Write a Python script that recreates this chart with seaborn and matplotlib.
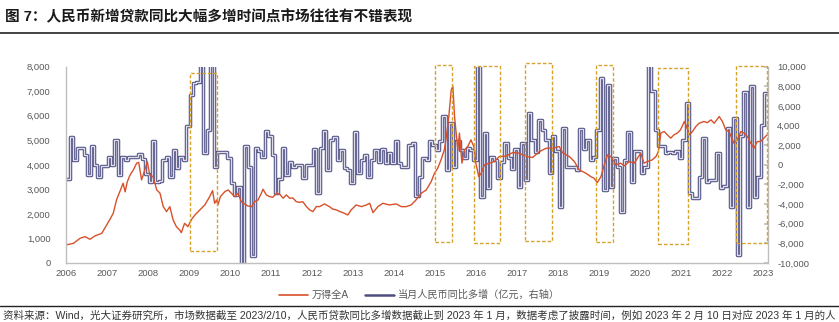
import numpy as np
import pandas as pd
import matplotlib
matplotlib.use("Agg")
import matplotlib.pyplot as plt
import matplotlib.dates as mdates
import matplotlib.patheffects as pe
from matplotlib.lines import Line2D
from matplotlib.patches import Rectangle
from matplotlib.ticker import FuncFormatter, MultipleLocator
import seaborn as sns

# ---------------- data ----------------
TITLE = "图 7：人民币新增贷款同比大幅多增时间点市场往往有不错表现"
SOURCE = ("资料来源：Wind，光大证券研究所，市场数据截至 2023/2/10，人民币贷款同比多增数据截止到 2023 年 1 月，"
          "数据考虑了披露时间，例如 2023 年 2 月 10 日对应 2023 年 1 月的人")
LABEL_A = "万得全A"
LABEL_B = "当月人民币同比多增（亿元，右轴）"

# Wind All A index (left axis), time in decimal years
ORANGE_T = [2006.00, 2006.19, 2006.35, 2006.47, 2006.59, 2006.71, 2006.88, 2007.00, 2007.08, 2007.16,
            2007.24, 2007.32, 2007.40, 2007.45, 2007.50, 2007.57, 2007.65, 2007.73, 2007.78, 2007.85,
            2007.93, 2007.99, 2008.05, 2008.13, 2008.22, 2008.30, 2008.38, 2008.46, 2008.54, 2008.62,
            2008.70, 2008.78, 2008.82, 2008.90, 2008.98, 2009.07, 2009.15, 2009.27, 2009.39, 2009.51,
            2009.58, 2009.63, 2009.68, 2009.71, 2009.77, 2009.88, 2009.96, 2010.04, 2010.12, 2010.20,
            2010.28, 2010.36, 2010.44, 2010.53, 2010.61, 2010.69, 2010.77, 2010.81, 2010.89, 2010.97,
            2011.05, 2011.14, 2011.22, 2011.30, 2011.38, 2011.46, 2011.54, 2011.62, 2011.70, 2011.78,
            2011.87, 2011.95, 2012.03, 2012.11, 2012.19, 2012.31, 2012.43, 2012.51, 2012.60, 2012.68,
            2012.76, 2012.88, 2012.96, 2013.08, 2013.21, 2013.33, 2013.41, 2013.49, 2013.61, 2013.73,
            2013.89, 2014.06, 2014.18, 2014.30, 2014.42, 2014.54, 2014.67, 2014.79, 2014.91, 2014.99,
            2015.07, 2015.15, 2015.23, 2015.27, 2015.34, 2015.40, 2015.44, 2015.48, 2015.52, 2015.56,
            2015.60, 2015.66, 2015.72, 2015.80, 2015.88, 2015.95, 2016.00, 2016.07, 2016.13, 2016.21,
            2016.33, 2016.45, 2016.57, 2016.74, 2016.90, 2017.06, 2017.22, 2017.38, 2017.55, 2017.71,
            2017.87, 2018.03, 2018.11, 2018.28, 2018.40, 2018.52, 2018.68, 2018.80, 2018.88, 2018.96,
            2019.05, 2019.13, 2019.21, 2019.29, 2019.41, 2019.53, 2019.62, 2019.74, 2019.86, 2019.94,
            2020.02, 2020.10, 2020.18, 2020.30, 2020.39, 2020.45, 2020.51, 2020.59, 2020.67, 2020.75,
            2020.83, 2020.91, 2020.99, 2021.08, 2021.12, 2021.20, 2021.28, 2021.36, 2021.44, 2021.56,
            2021.64, 2021.73, 2021.81, 2021.93, 2022.01, 2022.09, 2022.17, 2022.29, 2022.37, 2022.46,
            2022.54, 2022.62, 2022.70, 2022.78, 2022.86, 2022.94, 2023.02, 2023.10]
ORANGE_V = [734, 803, 1007, 1075, 966, 1102, 1211, 1550, 1781, 2027,
            2570, 2910, 3250, 2900, 3300, 3590, 3794, 4068, 4100, 3386,
            3794, 4133, 3590, 3522, 2978, 2844, 2297, 2093, 2297, 1754,
            1481, 1346, 1237, 1618, 1481, 1781, 1958, 2162, 2366, 2706,
            2950, 2435, 2570, 2366, 2706, 2910, 2978, 2844, 2706, 2844,
            2502, 2407, 2325, 2297, 2502, 2570, 2844, 3006, 2775, 2706,
            2680, 2844, 2800, 2640, 2775, 2640, 2650, 2502, 2470, 2500,
            2297, 2162, 2093, 2300, 2297, 2407, 2297, 2200, 2162, 2100,
            2053, 1958, 2162, 2366, 2297, 2366, 2435, 2053, 2297, 2435,
            2366, 2407, 2297, 2297, 2366, 2570, 2844, 2978, 3318, 3660,
            3864, 4202, 4610, 5018, 5969, 7058, 7194, 5969, 5292, 4610,
            5292, 4068, 4610, 4746, 5018, 4746, 4068, 3522, 3660, 3998,
            4068, 4133, 4337, 4360, 4500, 4474, 4337, 4300, 4540, 4678,
            4678, 4746, 4500, 4337, 4133, 3794, 3660, 3522, 3454, 3277,
            3522, 3998, 4406, 4337, 3998, 4068, 3960, 4133, 4068, 4270,
            4474, 4068, 4133, 4202, 4337, 4542, 5292, 5360, 5224, 5088,
            5224, 5292, 5429, 5765, 5630, 5224, 5360, 5561, 5697, 5765,
            5720, 5834, 5697, 5969, 5765, 5429, 5360, 4882, 5018, 5360,
            5292, 5156, 4882, 4678, 4950, 4950, 5088, 5224]

# Monthly RMB loans YoY increase (right axis), by release month starting 2006-01
LOAN_2006 = [-1460, 2880, 510, 1750, 1750, 1020, -1000, 1940, 0, -1250, -100, -100]
LOAN_2007 = [760, 0, 2550, -1000, 760, 510, 780, 850, 850, 1120, 610, -950]
LOAN_2008 = [-1700, 2380, -1700, -1600, 510, 780, -1190, 1530, -340, 850, 510, 3910]
LOAN_2009 = [7140, 8330, 8430, 13000, 1190, 3500, 12000, -170, 1360, 1360, 1360, 680]
LOAN_2010 = [-1870, -3060, -2210, -10800, 1870, -170, -9300, 1700, 1450, 850, 3400, 2900]
LOAN_2011 = [1020, -2900, -1400, 1700, -1020, 340, -170, 0, 0, -1360, 0, 0]
LOAN_2012 = [1600, -2890, 1700, 3400, -510, 2550, 2820, 510, 1530, -340, -510, -1870]
LOAN_2013 = [3300, -850, 510, 1020, -1190, 510, 1530, 340, 1600, 170, 1190, 170]
LOAN_2014 = [2480, 170, -240, -240, 2040, 2210, -3160, -1190, 680, 510, 2380, 2040]
LOAN_2015 = [1530, 2380, 5000, -510, 4250, -170, 2380, 1530, 680, 1700, 1530, 510]
LOAN_2016 = [13000, -3230, 3230, -2380, 850, 510, -1360, 340, 2210, 680, -440, 1600]
LOAN_2017 = [-2210, 2210, -1530, 5270, 2550, 1360, 4590, 3570, 2550, -850, 2960, 1400]
LOAN_2018 = [-4250, 3740, -170, -170, -170, -510, 3640, 1600, 2550, 510, 850, 3570]
LOAN_2019 = [8840, -2550, 8160, -2210, 680, -170, -4760, 510, 3300, -1700, 1460, 1460]
LOAN_2020 = [-850, -170, 13000, 7480, 3570, 1870, 1870, 1190, 1360, 1190, 1400, 680]
LOAN_2021 = [2550, 6290, -2890, -3400, -3400, -1190, 2720, -1700, -1530, -1530, 1190, -2380]
LOAN_2022 = [-2200, 3740, -4250, 4760, -9180, 2890, 7380, -4250, 7990, -3230, -1190, 4080]
LOAN_2023 = [7310]

# highlighted periods (dashed boxes): start/end in decimal years, low/high on left axis
BOX_T0 = [2009.03, 2015.01, 2015.95, 2017.20, 2018.94, 2020.43, 2022.33]
BOX_T1 = [2009.69, 2015.42, 2016.60, 2017.85, 2019.35, 2021.18, 2023.09]
BOX_LO = [500, 870, 830, 910, 845, 775, 830]
BOX_HI = [7740, 8080, 8040, 8150, 8050, 7940, 8040]

X_START = "2006-01-01"
X_END = "2023-02-10"

# ---------------- helpers ----------------
def dec2date(t):
    y = int(np.floor(t))
    return pd.Timestamp(y, 1, 1) + pd.Timedelta(days=(t - y) * 365.25)

loan_vals = (LOAN_2006 + LOAN_2007 + LOAN_2008 + LOAN_2009 + LOAN_2010 + LOAN_2011 + LOAN_2012 +
             LOAN_2013 + LOAN_2014 + LOAN_2015 + LOAN_2016 + LOAN_2017 + LOAN_2018 + LOAN_2019 +
             LOAN_2020 + LOAN_2021 + LOAN_2022 + LOAN_2023)
loan_dates = list(pd.date_range(X_START, periods=len(loan_vals), freq="MS") + pd.Timedelta(days=9))
loan_dates[0] = pd.Timestamp(X_START)
loan_dates.append(pd.Timestamp(X_END))
loan_vals_ext = loan_vals + [loan_vals[-1]]
df_loan = pd.DataFrame({"date": loan_dates, "value": loan_vals_ext})
df_idx = pd.DataFrame({"date": [dec2date(t) for t in ORANGE_T], "value": ORANGE_V})

# ---------------- style ----------------
sns.set_theme(style="white")
plt.rcParams["font.family"] = ["Liberation Sans", "Noto Sans CJK SC", "DejaVu Sans"]
plt.rcParams["axes.unicode_minus"] = False

ORANGE = "#d8502a"
NAVY = "#4e4e80"
NAVY_IN = "#dcdcec"
BOX_C = "#d6a22a"
GRID_C = "#bfbfbf"
TXT_C = "#595959"

fig = plt.figure(figsize=(8.39, 3.22), dpi=100)
L = 65.7 / 839
R = 767.5 / 839
B = 1 - 263 / 322
T = 1 - 66.7 / 322
ax = fig.add_axes([L, B, R - L, T - B])
ax2 = ax.twinx()

# blue step line on right axis (hollow look: dark outline, light core)
sns.lineplot(data=df_loan, x="date", y="value", ax=ax2, drawstyle="steps-post",
             color=NAVY_IN, linewidth=1.0, estimator=None, sort=False, legend=False,
             path_effects=[pe.Stroke(linewidth=2.5, foreground=NAVY), pe.Normal()])
# orange index line on left axis
sns.lineplot(data=df_idx, x="date", y="value", ax=ax, color=ORANGE, linewidth=1.0,
             estimator=None, sort=False, legend=False)

ax.set_zorder(ax2.get_zorder() + 1)
ax.patch.set_visible(False)

xs, xe = pd.Timestamp(X_START), pd.Timestamp(X_END)
ax.set_xlim(xs, xe)
ax.set_ylim(0, 8000)
ax2.set_ylim(-10000, 10000)

ax.yaxis.set_major_locator(MultipleLocator(1000))
ax2.yaxis.set_major_locator(MultipleLocator(2000))
fmt = FuncFormatter(lambda v, p: f"{v:,.0f}")
ax.yaxis.set_major_formatter(fmt)
ax2.yaxis.set_major_formatter(fmt)
ax.xaxis.set_major_locator(mdates.YearLocator())
ax.xaxis.set_major_formatter(mdates.DateFormatter("%Y"))

for a in (ax, ax2):
    for s in a.spines.values():
        s.set_visible(False)
        s.set_color(GRID_C)
        s.set_linewidth(1.0)
ax.spines["left"].set_visible(True)
ax.spines["bottom"].set_visible(True)
ax2.spines["right"].set_visible(True)

ax.tick_params(axis="x", direction="in", length=3, color=GRID_C, labelsize=6.8,
               labelcolor=TXT_C, pad=4)
ax.tick_params(axis="y", length=0, labelsize=6.8, labelcolor=TXT_C, pad=11)
ax2.tick_params(axis="y", direction="in", length=3, color=GRID_C, labelsize=6.8,
                labelcolor=TXT_C, pad=7)
ax.set_xlabel("")
ax.set_ylabel("")
ax2.set_xlabel("")
ax2.set_ylabel("")
ax.grid(False)
ax2.grid(False)

# dashed highlight boxes
for t0, t1, lo, hi in zip(BOX_T0, BOX_T1, BOX_LO, BOX_HI):
    x0 = mdates.date2num(dec2date(t0))
    x1 = mdates.date2num(dec2date(t1))
    ax.add_patch(Rectangle((x0, lo), x1 - x0, hi - lo, fill=False, edgecolor=BOX_C,
                           linewidth=1.0, linestyle=(0, (2.5, 1.5)), clip_on=False, zorder=5))

# legend
handles = [Line2D([], [], color=ORANGE, linewidth=1.2),
           Line2D([], [], color=NAVY, linewidth=1.8)]
fig.legend(handles, [LABEL_A, LABEL_B], loc="center", bbox_to_anchor=(0.5, 1 - 295 / 322),
           ncol=2, frameon=False, fontsize=7.3, labelcolor=TXT_C, handlelength=2.8,
           columnspacing=1.6, handletextpad=0.4)

# title & footer
fig.text(0.006, 1 - 17 / 322, TITLE, fontsize=10.5, fontweight="bold", color="#1a1a1a",
         ha="left", va="center")
fig.add_artist(Line2D([0, 1], [1 - 33 / 322] * 2, color="#222222", linewidth=1.2,
                      transform=fig.transFigure))
fig.add_artist(Line2D([0, 1], [1 - 306 / 322] * 2, color="#222222", linewidth=1.0,
                      transform=fig.transFigure))
fig.text(0.003, 1 - 315 / 322, SOURCE, fontsize=7.55, color="#333333", ha="left", va="center")

fig.savefig("out.png", dpi=100)
